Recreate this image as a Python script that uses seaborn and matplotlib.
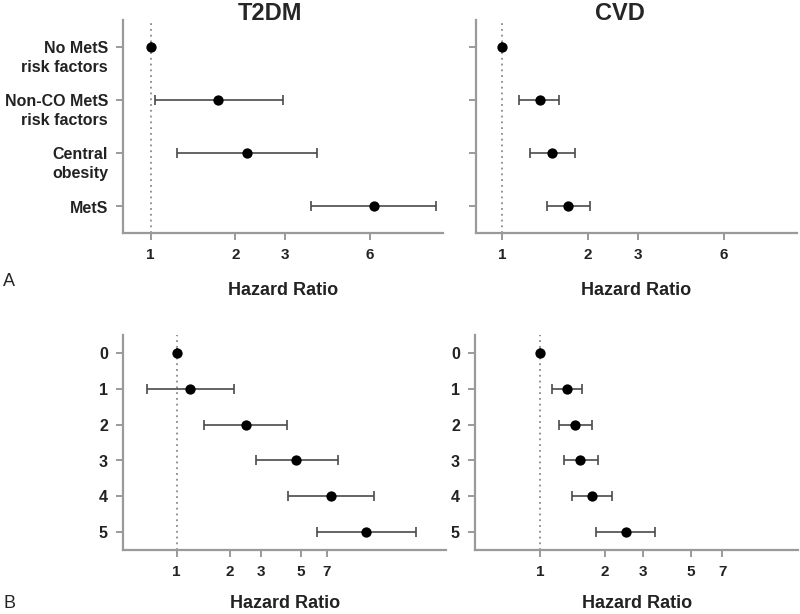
import numpy as np
import pandas as pd
import matplotlib
matplotlib.use("Agg")
import matplotlib.pyplot as plt
import matplotlib.transforms as mtransforms
import seaborn as sns
from matplotlib.ticker import FixedLocator, NullLocator, FixedFormatter

# Panel A: MetS categories
a_labels = ["No MetS\nrisk factors", "Non-CO MetS\nrisk factors", "Central\nobesity", "MetS"]
a_t2dm_hr = [1.0, 1.74, 2.20, 6.19]
a_t2dm_lo = [1.0, 1.04, 1.24, 3.71]
a_t2dm_hi = [1.0, 2.94, 3.90, 10.3]
a_cvd_hr = [1.0, 1.36, 1.50, 1.71]
a_cvd_lo = [1.0, 1.15, 1.25, 1.44]
a_cvd_hi = [1.0, 1.59, 1.81, 2.03]
a_ticks = [1, 2, 3, 6]

# Panel B: number of risk factors
b_labels = ["0", "1", "2", "3", "4", "5"]
b_t2dm_hr = [1.0, 1.19, 2.45, 4.72, 7.35, 11.7]
b_t2dm_lo = [1.0, 0.68, 1.43, 2.78, 4.21, 6.18]
b_t2dm_hi = [1.0, 2.09, 4.20, 8.08, 12.9, 22.3]
b_cvd_hr = [1.0, 1.33, 1.46, 1.54, 1.75, 2.50]
b_cvd_lo = [1.0, 1.13, 1.23, 1.29, 1.41, 1.82]
b_cvd_hi = [1.0, 1.57, 1.74, 1.86, 2.16, 3.42]
b_ticks = [1, 2, 3, 5, 7]

sns.set_style("ticks")
plt.rcParams['font.family'] = ['Liberation Sans', 'DejaVu Sans']

fig = plt.figure(figsize=(8, 6.14), dpi=100)
spine_col = "#9a9a9a"


def forest(ax, labels, hr, lo, hi, ticks, xlim, show_labels=True, pad=14):
    df = pd.DataFrame({"label": labels, "hr": hr, "lo": lo, "hi": hi})
    df["pos"] = np.arange(len(df))
    err = [df["hr"] - df["lo"], df["hi"] - df["hr"]]
    ax.axvline(1, color="#8a8a8a", linestyle=(0, (1, 2.2)), linewidth=1.3, zorder=1)
    ax.errorbar(df["hr"], df["pos"], xerr=err, fmt="none", ecolor="#4a4a4a",
                elinewidth=1.2, capsize=3.8, capthick=1.2, zorder=2)
    sns.scatterplot(data=df, x="hr", y="pos", ax=ax, color="black", s=55,
                    edgecolor="black", linewidth=0, zorder=3, legend=False)
    ax.set_xscale("log")
    ax.set_xlim(*xlim)
    ax.set_ylim(len(df) - 0.5, -0.5)
    ax.xaxis.set_major_locator(FixedLocator(ticks))
    ax.xaxis.set_major_formatter(FixedFormatter([str(t) for t in ticks]))
    ax.xaxis.set_minor_locator(NullLocator())
    ax.set_yticks(df["pos"])
    if show_labels:
        ax.set_yticklabels(df["label"], fontweight="bold", fontsize=11.5,
                           color="#222222", linespacing=1.35)
    else:
        ax.set_yticklabels([])
    for lab in ax.get_xticklabels():
        lab.set_fontweight("bold")
        lab.set_fontsize(11)
        lab.set_color("#222222")
    ax.set_xlabel("Hazard Ratio", fontweight="bold", fontsize=13, labelpad=pad, color="#222222")
    ax.set_ylabel("")
    sns.despine(ax=ax)
    for s in ["left", "bottom"]:
        ax.spines[s].set_color(spine_col)
        ax.spines[s].set_linewidth(1.6)
    ax.tick_params(axis="both", color=spine_col, width=1.4, length=5, pad=6)
    # first line of each label sits on its tick, extra lines hang below
    shift = mtransforms.ScaledTranslation(0, 4.2 / 72, fig.dpi_scale_trans)
    for lab in ax.get_yticklabels():
        lab.set_va("top")
        lab.set_transform(lab.get_transform() + shift)


ax1 = fig.add_axes([0.154, 0.6205, 0.400, 0.347])
ax2 = fig.add_axes([0.595, 0.6205, 0.401, 0.347])
ax3 = fig.add_axes([0.154, 0.1042, 0.404, 0.350])
ax4 = fig.add_axes([0.594, 0.1042, 0.404, 0.350])

forest(ax1, a_labels, a_t2dm_hr, a_t2dm_lo, a_t2dm_hi, a_ticks, (0.80, 10.9))
forest(ax2, a_labels, a_cvd_hr, a_cvd_lo, a_cvd_hi, a_ticks, (0.81, 10.85), show_labels=False)
forest(ax3, b_labels, b_t2dm_hr, b_t2dm_lo, b_t2dm_hi, b_ticks, (0.50, 33.0), pad=11)
forest(ax4, b_labels, b_cvd_hr, b_cvd_lo, b_cvd_hi, b_ticks, (0.50, 15.8), pad=11)
ax2.tick_params(axis="y", labelleft=False)

fig.text(270 / 800, 1 - 13 / 614, "T2DM", ha="center", va="center", fontsize=17, fontweight="bold")
fig.text(620 / 800, 1 - 13 / 614, "CVD", ha="center", va="center", fontsize=17, fontweight="bold")
fig.text(0.004, 1 - 281 / 614, "A", ha="left", va="center", fontsize=13)
fig.text(0.004, 1 - 603 / 614, "B", ha="left", va="center", fontsize=13)

fig.savefig("out.png", dpi=100)
